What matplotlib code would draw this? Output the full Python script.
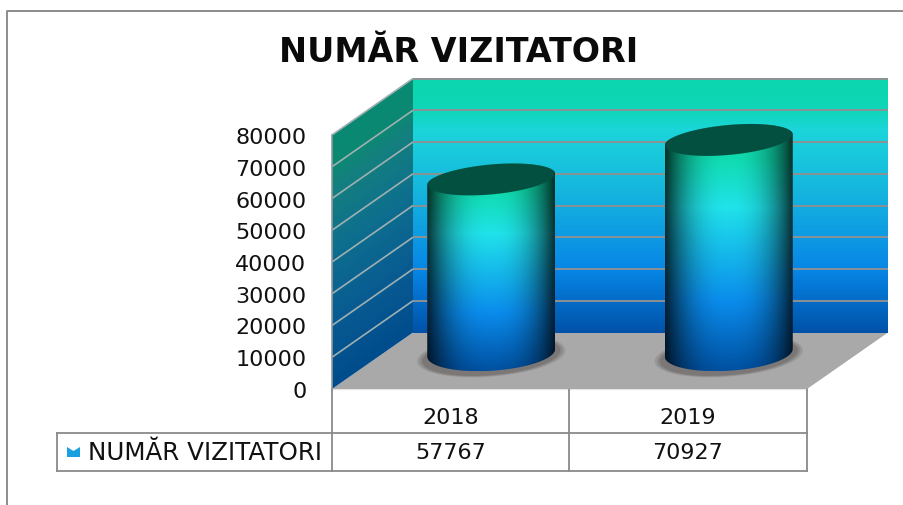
"""3D-style cylinder chart of visitor numbers with a data table below."""
import matplotlib
matplotlib.use("Agg")
import matplotlib.pyplot as plt
import numpy as np
from matplotlib.colors import to_rgb
from matplotlib.patches import Polygon

years = ["2018", "2019"]
visitors = [57767, 70927]
y_ticks = [0, 10000, 20000, 30000, 40000, 50000, 60000, 70000, 80000]
series_name = "NUMĂR VIZITATORI"
title = "NUMĂR VIZITATORI"

W, H = 904, 506
GRID = "#8b9294"
TABLE = "#8a8a8a"

WALL_POS = [0.0, 0.12, 0.2, 0.45, 0.75, 1.0]
WALL_COL = ["#0bd6ae", "#0fd6b8", "#1bd5da", "#15b4de", "#0786e6", "#0052a8"]
SIDE_COL = ["#0a8a72", "#0c8872", "#14807e", "#0e6f8e", "#085a92", "#004c8c"]
BAR_POS = [0.0, 0.14, 0.34, 0.72, 1.0]
BAR_COL = ["#0bd9a8", "#10dcb0", "#20e2ea", "#0a8cec", "#0050a0"]

fig = plt.figure(figsize=(W / 100, H / 100), dpi=100, facecolor="white")

# pixel layer for the frame and the table
bg = fig.add_axes([0, 0, 1, 1], zorder=0)
bg.set_xlim(0, W)
bg.set_ylim(H, 0)
bg.axis("off")

ax = fig.add_axes([332 / W, 1 - 390 / H, 475 / W, 254 / H], zorder=1)
ax.set_xlim(0, len(years))
ax.set_ylim(0, y_ticks[-1])
ax.patch.set_alpha(0)
for s in ax.spines.values():
    s.set_visible(False)

PX = len(years) / 475
PY = y_ticks[-1] / 254
DX, DY = 81 * PX, 56.5 * PY


def ramp(pos, cols, n=256):
    t = np.linspace(0, 1, n)
    rgb = np.array([to_rgb(c) for c in cols])
    return np.stack([np.interp(t, pos, rgb[:, i]) for i in range(3)], axis=1)


def fill_gradient(verts, rgb):
    verts = np.asarray(verts)
    clip = Polygon(verts, closed=True, transform=ax.transData)
    ext = (verts[:, 0].min(), verts[:, 0].max(), verts[:, 1].min(), verts[:, 1].max())
    im = ax.imshow(rgb, extent=ext, origin="upper", aspect="auto", zorder=2, interpolation="bilinear")
    im.set_clip_path(clip)
    im.set_clip_box(fig.bbox)
    return im


top = y_ticks[-1]
# floor
ax.add_patch(Polygon([(0, 0), (DX, DY), (2 + DX, DY), (2, 0)], color="#a9a9a9", lw=0, zorder=2, clip_on=False))
# back wall
fill_gradient([(DX, DY), (DX, DY + top), (2 + DX, DY + top), (2 + DX, DY)], ramp(WALL_POS, WALL_COL)[:, None, :])
# side wall, sheared so the colour bands follow the slope
n_rows, n_cols = 320, 60
side = ramp(WALL_POS, SIDE_COL, n_rows)
off = n_rows * DY / (DY + top)
rows = np.arange(n_rows)[:, None]
frac = np.linspace(0, 1, n_cols)[None, :]
idx = (rows - (1 - frac) * off) * n_rows / (n_rows - off)
fill_gradient([(0, 0), (0, top), (DX, DY + top), (DX, DY)], side[np.clip(idx, 0, n_rows - 1).astype(int)])

for v in y_ticks[1:]:
    ax.plot([DX, 2 + DX], [DY + v, DY + v], color=GRID, lw=1.4, zorder=3, clip_on=False, solid_capstyle="butt")
    ax.plot([0, DX], [v, DY + v], color="#9fb0b2", lw=1.2, zorder=3, clip_on=False, solid_capstyle="butt")
ax.plot([0, 0], [0, top], color="#8f9a9c", lw=1.2, zorder=3, clip_on=False)

t = np.linspace(0, 2 * np.pi, 200)
A = 64 * PX
SHEAR = 5.5 * PY
B_TOP, B_BASE = 15 * PY, 18 * PY
BASE_Y = DY / 2 + 8 * PY
CYL_SCALE = 0.945  # cylinders read a little short of the wall scale
for i, v in enumerate(visitors):
    cx = i + 0.5 + DX / 2
    y1 = BASE_Y + v * CYL_SCALE
    # soft shadow on the floor
    for grow, alpha in zip([1.16, 1.12, 1.08], [0.25, 0.35, 0.6]):
        ax.fill(cx + A * grow * np.cos(t), BASE_Y - 3 * PY + B_BASE * grow * np.sin(t) + SHEAR * np.cos(t),
                color="#716c6a", alpha=alpha, lw=0, zorder=4, clip_on=False)
    # body: top half of the top ellipse, bottom half of the base ellipse
    a = np.linspace(0, np.pi, 100)
    b = np.linspace(np.pi, 2 * np.pi, 100)
    verts = np.r_[
        np.c_[cx + A * np.cos(a), y1 + B_TOP * np.sin(a) + SHEAR * np.cos(a)],
        np.c_[cx + A * np.cos(b), BASE_Y + B_BASE * np.sin(b) + SHEAR * 0.7 * np.cos(b)],
    ]
    col = ramp(BAR_POS, BAR_COL)[:, None, :]
    u = np.linspace(-1, 1, 200)[None, :, None]
    shade = 0.22 + 0.78 * (1 - np.abs(u) ** 2.4)
    im = fill_gradient(verts, col * shade)
    im.set_zorder(5)
    # dark top face
    ax.fill(cx + A * 0.985 * np.cos(t), y1 + B_TOP * np.sin(t) + SHEAR * np.cos(t),
            color="#045040", lw=0, zorder=6, clip_on=False)

ax.set_xlim(0, len(years))
ax.set_ylim(0, y_ticks[-1])
ax.set_xticks([])
ax.set_yticks(y_ticks)
ax.set_yticklabels([str(v) for v in y_ticks], fontsize=16, color="#111111")
ax.tick_params(axis="y", length=0, pad=18.5)

bg.text(459, 52, title, ha="center", va="center", fontsize=24, fontweight="bold", color="#0a0a0a")

# outer frame
bg.plot([7, 7, W], [H, 12, 12], color="#8c8c8c", lw=1.4)

# data table
bg.plot([332, 807], [390, 390], color="#e6e6e6", lw=1)
for x in [332, 569, 807]:
    bg.plot([x, x], [390, 472], color=TABLE, lw=1.3)
bg.plot([57, 807], [434, 434], color=TABLE, lw=1.3)
bg.plot([57, 807], [472, 472], color=TABLE, lw=1.3)
bg.plot([57, 57], [434, 472], color=TABLE, lw=1.3)
for x, yr, v in zip([450.5, 688], years, visitors):
    bg.text(x, 418, yr, ha="center", va="center", fontsize=16, color="#111111")
    bg.text(x, 453, str(v), ha="center", va="center", fontsize=16, color="#111111")
bg.text(88, 453, series_name, ha="left", va="center", fontsize=17.7, color="#111111")
# legend key
bg.add_patch(Polygon([(67, 448), (73.5, 452), (80, 448), (80, 458), (67, 458)], color="#1b9fe0", lw=0))

fig.savefig("out.png", dpi=100)
